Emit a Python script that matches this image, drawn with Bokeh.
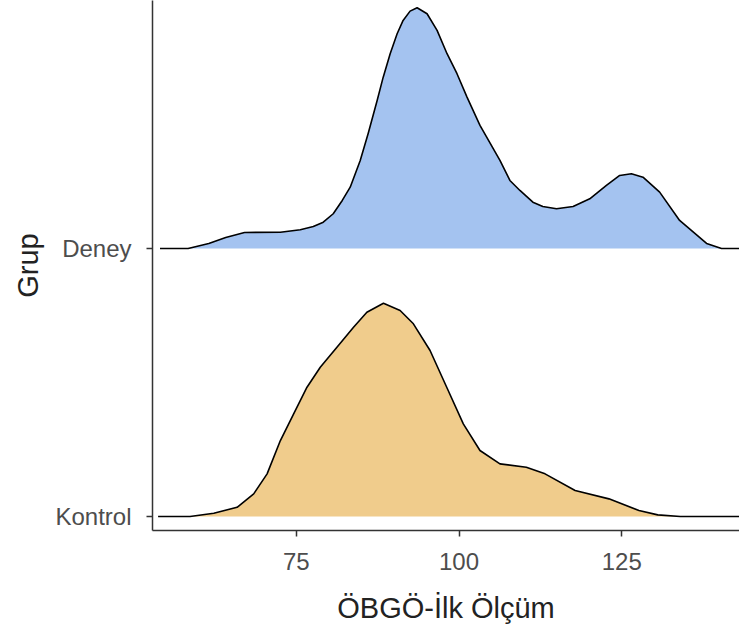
from bokeh.plotting import figure
from bokeh.models import FixedTicker, Range1d
from bokeh.embed import file_html
from bokeh.resources import INLINE

# Data (ridge heights in category units)
groups = ["Kontrol", "Deney"]
group_pos = [1, 2]

deney_x = [54.05, 58.37, 61.55, 64.15, 67.04, 72.55, 75.61, 77.61, 79.14, 80.67, 82.06,
           83.28, 84.82, 86.04, 87.42, 88.34, 89.42, 90.49, 91.41, 92.48, 93.56, 95.09,
           96.63, 98.16, 99.69, 101.23, 103.22, 106.29, 107.82, 109.36, 111.35, 112.88,
           114.98, 117.53, 120.09, 122.65, 124.69, 126.49, 128.27, 130.83, 133.90,
           138.04, 140.34, 143.5]
deney_h = [0.0, 0.0, 0.0187, 0.041, 0.0597, 0.0608, 0.0698, 0.0821, 0.0981, 0.1295, 0.1791,
           0.2287, 0.3284, 0.4291, 0.5522, 0.6381, 0.7265, 0.8011, 0.8507, 0.8854, 0.8981, 0.8757,
           0.8134, 0.7265, 0.6519, 0.5646, 0.4590, 0.3284, 0.2537, 0.2164, 0.1728, 0.1567,
           0.1481, 0.1567, 0.1854, 0.2351, 0.2724, 0.2787, 0.2660, 0.2101, 0.1045,
           0.0187, 0.0, 0.0]

kontrol_x = [53.76, 58.67, 62.32, 65.90, 68.45, 70.51, 72.55, 74.59, 76.64, 78.68, 81.24,
             83.79, 85.84, 88.39, 90.95, 92.99, 95.55, 98.11, 100.66, 103.22, 106.29,
             110.34, 113.22, 117.84, 123.04, 127.65, 130.54, 134.00, 143.5]
kontrol_h = [0.0, 0.0, 0.0123, 0.0347, 0.0847, 0.1593, 0.2836, 0.3832, 0.4825, 0.5571, 0.6317,
             0.7063, 0.7623, 0.7959, 0.7687, 0.7190, 0.6194, 0.4825, 0.3459, 0.2463, 0.1966,
             0.1840, 0.1593, 0.0970, 0.0660, 0.0224, 0.0063, 0.0, 0.0]

x_ticks = [75, 100, 125]

colors = {"Deney": "#A4C3F0", "Kontrol": "#F0CC8C"}

p = figure(width=739, height=637, output_backend="svg", toolbar_location=None,
           x_range=Range1d(52.9, 143.1), y_range=Range1d(0.948, 2.925),
           min_border_left=152, min_border_bottom=107, min_border_top=0, min_border_right=0)

series = {"Deney": (deney_x, deney_h), "Kontrol": (kontrol_x, kontrol_h)}
for g, base in zip(groups[::-1], group_pos[::-1]):
    xs, hs = series[g]
    top = [base + h for h in hs]
    bot = [base] * len(xs)
    p.varea(x=xs, y1=bot, y2=top, fill_color=colors[g], fill_alpha=1.0)
    p.line(x=xs, y=top, line_color="black", line_width=1.6, line_join="round")

p.xgrid.visible = False
p.ygrid.visible = False
p.outline_line_color = None
p.background_fill_color = "white"
p.border_fill_color = "white"

p.xaxis.ticker = FixedTicker(ticks=x_ticks)
p.yaxis.ticker = FixedTicker(ticks=group_pos)
p.yaxis.major_label_overrides = {1: "Kontrol", 2: "Deney"}
p.xaxis.axis_label = "ÖBGÖ-İlk Ölçüm"
p.yaxis.axis_label = "Grup"

for ax in (p.xaxis[0], p.yaxis[0]):
    ax.axis_line_color = "#333333"
    ax.axis_line_width = 1.5
    ax.major_tick_line_color = "#333333"
    ax.major_tick_line_width = 1.5
    ax.major_tick_out = 6
    ax.major_tick_in = 0
    ax.minor_tick_out = 0
    ax.minor_tick_in = 0
    ax.major_label_text_font = "Liberation Sans"
    ax.major_label_text_font_size = "24px"
    ax.major_label_text_color = "#4D4D4D"
    ax.axis_label_text_font = "Liberation Sans"
    ax.axis_label_text_font_size = "29px"
    ax.axis_label_text_font_style = "normal"
    ax.axis_label_text_color = "#222222"

p.yaxis.major_label_standoff = 15
p.yaxis.axis_label_standoff = 8
p.xaxis.major_label_standoff = 16
p.xaxis.axis_label_standoff = 19

open("out.html", "w").write(file_html(p, INLINE))
